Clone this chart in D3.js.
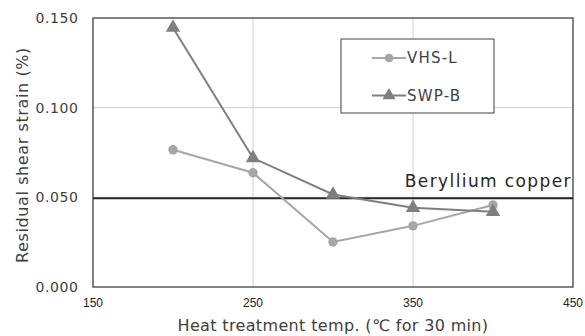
<!DOCTYPE html>
<html>
<head>
<meta charset="utf-8">
<script src="https://cdn.jsdelivr.net/npm/d3@7"></script>
<style>
  body { margin: 0; background: #fff; }
  text { font-family: "DejaVu Sans", Verdana, sans-serif; fill: #404040; }
</style>
</head>
<body>
<div id="chart"></div>
<script>
const temps = [200, 250, 300, 350, 400];
const vhsL = [0.0765, 0.0637, 0.0251, 0.0341, 0.0457];
const swpB = [0.1446, 0.0719, 0.0516, 0.0442, 0.0419];
const berylliumCopper = 0.0495;
const xTicks = [150, 250, 350, 450];
const yTicks = [0, 0.05, 0.1, 0.15];

const W = 585, H = 336;
const margin = { top: 18, right: 12, bottom: 49, left: 93 };
const width = W - margin.left - margin.right;
const height = H - margin.top - margin.bottom;

const svg = d3.select("#chart").append("svg")
  .attr("width", W).attr("height", H);
const g = svg.append("g").attr("transform", `translate(${margin.left},${margin.top})`);

const x = d3.scaleLinear().domain([150, 450]).range([0, width]);
const y = d3.scaleLinear().domain([0, 0.15]).range([height, 0]);

// gridlines
g.selectAll(".vgrid").data([250, 350]).join("line")
  .attr("x1", d => x(d)).attr("x2", d => x(d))
  .attr("y1", 0).attr("y2", height)
  .attr("stroke", "#d9d9d9").attr("stroke-width", 1.2);
g.selectAll(".hgrid").data([0.05, 0.1]).join("line")
  .attr("x1", 0).attr("x2", width)
  .attr("y1", d => y(d)).attr("y2", d => y(d))
  .attr("stroke", "#d9d9d9").attr("stroke-width", 1.2);

// frame
g.append("rect").attr("width", width).attr("height", height)
  .attr("fill", "none").attr("stroke", "#404040").attr("stroke-width", 1.3);

// tick labels
g.selectAll(".xt").data(xTicks).join("text")
  .attr("x", d => x(d)).attr("y", height + 20)
  .attr("text-anchor", "middle")
  .style("font-family", "'Liberation Sans', Arial, sans-serif")
  .style("font-size", "12px").style("fill", "#222")
  .text(d => d);
g.selectAll(".yt").data(yTicks).join("text")
  .attr("x", -14.4).attr("y", d => y(d)).attr("dy", "0.36em")
  .attr("text-anchor", "end")
  .style("font-size", "14px").style("letter-spacing", "0.6px")
  .text(d => d3.format(".3f")(d));

// beryllium copper reference
g.append("line")
  .attr("x1", 0).attr("x2", width)
  .attr("y1", y(berylliumCopper)).attr("y2", y(berylliumCopper))
  .attr("stroke", "#262626").attr("stroke-width", 2.2);
g.append("text")
  .attr("x", width - 1).attr("y", y(berylliumCopper) - 11)
  .attr("text-anchor", "end")
  .style("font-size", "17px").style("letter-spacing", "1.4px").style("fill", "#262626")
  .text("Beryllium copper");

const line = d3.line().x(d => x(d[0])).y(d => y(d[1]));
const series = [
  { name: "VHS-L", values: vhsL, color: "#a6a6a6", sym: d3.symbolCircle },
  { name: "SWP-B", values: swpB, color: "#7f7f7f", sym: d3.symbolTriangle }
];

series.forEach(s => {
  const pts = temps.map((t, i) => [t, s.values[i]]);
  g.append("path").datum(pts)
    .attr("d", line).attr("fill", "none")
    .attr("stroke", s.color).attr("stroke-width", 2);
  g.selectAll(null).data(pts).join("path")
    .attr("transform", d => `translate(${x(d[0])},${y(d[1])})`)
    .attr("d", d3.symbol().type(s.sym).size(s.sym === d3.symbolCircle ? 70 : 90))
    .attr("fill", s.color);
});

// legend
const lg = svg.append("g").attr("transform", "translate(341,39)");
lg.append("rect").attr("width", 153).attr("height", 74)
  .attr("fill", "#fff").attr("stroke", "#404040").attr("stroke-width", 1);
series.forEach((s, i) => {
  const cy = 19 + i * 37.5;
  lg.append("line").attr("x1", 31).attr("x2", 65).attr("y1", cy).attr("y2", cy)
    .attr("stroke", s.color).attr("stroke-width", 2);
  lg.append("path").attr("transform", `translate(48,${cy})`)
    .attr("d", d3.symbol().type(s.sym).size(s.sym === d3.symbolCircle ? 60 : 75))
    .attr("fill", s.color);
  lg.append("text").attr("x", 66).attr("y", cy).attr("dy", "0.36em")
    .style("font-size", "15px").style("letter-spacing", "1.2px").text(s.name);
});

// axis titles
svg.append("text")
  .attr("x", 333).attr("y", 331)
  .attr("text-anchor", "middle")
  .style("font-size", "16px").style("letter-spacing", "0.35px")
  .text("Heat treatment temp. (℃ for 30 min)");
svg.append("text")
  .attr("transform", "translate(28,155) rotate(-90)")
  .attr("text-anchor", "middle")
  .style("font-size", "16px").style("letter-spacing", "0.6px")
  .text("Residual shear strain (%)");
</script>
</body>
</html>
